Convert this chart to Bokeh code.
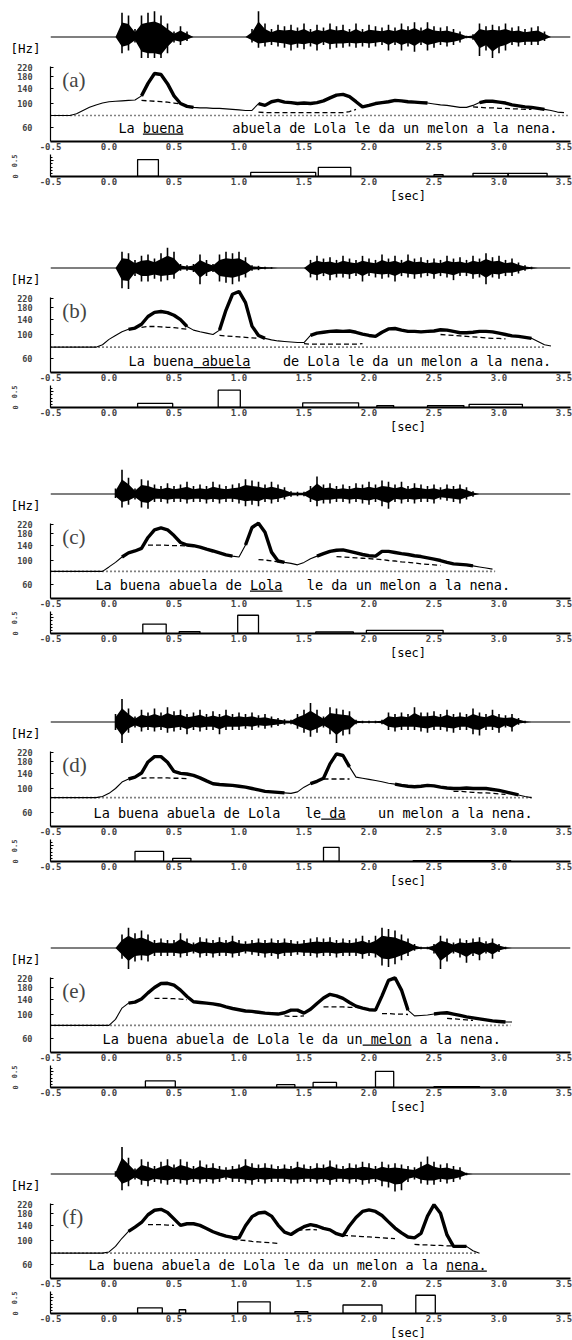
import re
import numpy as np
from bokeh.plotting import figure
from bokeh.layouts import column, row
from bokeh.models import Range1d, FixedTicker, PrintfTickFormatter, CustomJSTickFormatter, Label, Span
from bokeh.embed import file_html
from bokeh.resources import INLINE
from bokeh.core.properties import value

# ---------------------------------------------------------------- data
PANEL_LABELS = ["(a)", "(b)", "(c)", "(d)", "(e)", "(f)"]
SENTENCES = [
    "La buena      abuela de Lola le da un melon a la nena.",
    "La buena abuela    de Lola le da un melon a la nena.",
    "La buena abuela de Lola   le da un melon a la nena.",
    "La buena abuela de Lola   le da    un melon a la nena.",
    "La buena abuela de Lola le da un melon a la nena.",
    "La buena abuela de Lola le da un melon a la nena.",
]
UNDERLINE = [(3, 8), (8, 15), (19, 23), (28, 31), (32, 38), (44, 49)]
TEXT_X0 = [0.023, 0.10, -0.154, -0.169, -0.10, -0.208]     # sec
TEXT_Y = [59, 56, 59, 59, 59, 59]                          # Hz

XTICKS = [-0.5, 0.0, 0.5, 1.0, 1.5, 2.0, 2.5, 3.0, 3.5]
F0_TICKS = [60, 100, 140, 180, 220]
BAR_TICKS = [0.0, 0.5]

# speech waveform envelope (percent of full scale), t = 0.00 .. 3.40 step 0.05
WAVE_UP = [
    [0,90,80,30,80,90,95,80,50,20,40,20,0,0,0,0,0,0,0,0,0,
     30,95,50,30,45,40,45,35,50,30,45,35,50,40,45,30,50,30,45,40,35,45,35,50,40,55,35,55,40,35,40,30,20,5,10,
     50,40,45,40,50,35,40,30,35,40,20,0,0],
    [0,60,55,30,45,50,35,55,75,60,15,10,15,50,30,15,50,60,55,60,40,10,8,5,3,0,0,0,0,0,
     30,45,35,40,30,45,35,30,45,35,30,50,35,45,30,50,35,40,30,35,30,45,35,40,30,45,35,55,40,45,30,35,20,10,5,0,0,0,0],
    [20,90,60,20,55,50,35,30,40,30,35,45,30,35,30,45,35,30,35,40,55,50,45,35,45,35,25,10,8,8,
     30,65,35,40,30,35,30,40,35,45,35,50,45,35,45,30,40,35,30,35,25,35,30,35,25,10,0,0,0,0,0,0,0,0,0,0,0,0,0],
    [30,85,50,20,45,35,50,35,55,40,45,30,35,45,30,40,30,45,30,35,30,35,25,30,20,15,10,8,30,45,
     70,45,20,55,50,45,40,8,5,5,5,8,35,30,35,30,55,35,35,40,30,45,30,35,30,50,35,30,45,30,25,30,15,5,0,0,0,0,0],
    [0,50,75,55,65,50,30,35,30,30,55,35,20,40,35,30,40,30,45,30,25,30,35,30,35,30,35,30,25,30,
     35,40,35,40,30,35,30,35,45,30,45,75,70,65,50,35,15,5,5,15,45,35,20,35,30,35,40,25,35,15,5,0,0,0,0,0,0,0,0],
    [10,100,60,20,55,45,30,45,55,35,55,45,30,50,35,40,30,25,30,35,55,40,35,40,35,30,35,30,45,35,
     30,40,35,50,35,30,40,35,45,40,30,45,35,40,35,30,25,45,65,45,35,40,30,25,5,0,0,0,0,0,0,0,0,0,0,0,0,0,0],
]
WAVE_DOWN = [
    [0,60,50,20,90,100,100,110,60,20,30,15,0,0,0,0,0,0,0,0,0,
     20,40,35,30,35,40,50,40,45,35,50,30,45,40,40,35,40,35,40,35,30,50,30,50,35,55,30,50,40,30,35,30,20,5,10,
     70,50,90,60,50,30,35,30,30,30,15,0,0],
    [0,75,80,30,50,50,40,50,45,40,10,10,15,60,30,15,50,55,60,50,35,10,8,5,3,0,0,0,0,0,
     35,45,30,45,35,35,40,30,50,30,35,40,35,50,30,35,40,35,30,40,30,35,45,30,30,40,35,60,35,40,30,30,20,10,5,0,0,0,0],
    [15,50,40,20,50,55,30,30,35,30,30,35,30,30,35,30,35,30,30,35,45,40,45,30,35,30,20,10,8,8,
     30,45,35,35,30,30,35,30,35,40,30,45,55,30,35,30,35,30,30,35,20,25,30,35,20,10,0,0,0,0,0,0,0,0,0,0,0,0,0],
    [30,85,40,20,35,30,35,30,40,35,30,45,30,35,30,30,45,30,30,30,25,30,20,25,20,15,10,8,25,40,
     55,40,20,45,80,50,45,8,5,5,5,8,30,35,30,30,30,35,40,30,30,35,40,30,30,45,50,30,30,40,20,35,10,5,0,0,0,0,0],
    [0,40,80,50,45,50,30,30,30,30,35,30,20,35,30,35,30,30,35,30,20,25,30,35,30,40,30,30,25,30,
     30,35,30,30,35,30,30,30,40,30,35,65,70,60,45,30,10,5,5,20,80,50,20,35,55,30,45,20,40,15,5,0,0,0,0,0,0,0,0],
    [10,60,45,20,40,45,30,35,40,30,35,40,30,35,30,35,30,20,30,30,35,40,30,35,30,30,30,35,35,30,
     30,35,30,40,30,30,35,30,40,35,30,45,50,65,60,30,20,35,40,40,30,35,30,20,5,0,0,0,0,0,0,0,0,0,0,0,0,0,0],
]

# F0 contour (Hz), t = -0.50 step 0.05
F0 = [
    [77,77,77,77,80,86,92,97,101,104,105,106,107,108,
     118,155,192,188,154,118,100,94,
     92,91,91,90,90,89,88,87,86,86,
     100,96,104,107,103,102,100,101,100,102,
     106,113,120,122,116,104,93,96,100,102,
     104,107,106,104,103,102,101,99,97,96,
     94,92,92,96,102,105,105,103,101,97,
     95,93,92,90,88,86,83,82],
    [76,76,76,76,76,76,76,76,80,90,98,106,112,115,
     125,148,162,165,161,152,138,119,
     110,106,103,100,110,170,240,255,200,120,
     98,92,89,87,86,85,84,84,98,103,
     105,107,108,107,108,105,101,98,96,105,
     113,114,110,107,107,106,107,108,111,110,
     107,104,104,105,107,107,106,103,100,97,
     96,94,92,86,80,78],
    [79,79,79,79,79,79,79,79,79,87,96,108,118,123,
     130,165,195,203,195,172,148,140,
     138,134,128,123,118,113,110,108,140,205,
     225,185,120,99,96,94,91,96,104,110,
     116,122,125,126,122,118,114,111,110,122,
     122,119,116,114,111,109,106,103,100,96,
     93,92,91,89,87,85,83],
    [82,82,82,82,82,82,82,82,84,90,100,115,123,128,
     140,178,200,200,177,145,139,137,
     133,126,118,111,109,108,107,105,103,100,
     97,94,93,92,91,90,93,103,111,117,
     125,171,212,205,160,128,125,122,119,116,
     112,110,107,105,104,105,107,106,103,101,
     100,100,101,100,100,100,98,96,93,90,
     87,84,82],
    [79,79,79,79,79,79,79,79,79,79,
     90,115,128,131,140,160,180,196,197,189,
     170,148,132,130,128,126,123,118,114,111,
     108,107,105,103,102,101,104,110,110,103,
     112,127,143,155,150,142,130,120,115,111,
     110,150,210,222,170,110,97,98,99,101,
     103,104,101,98,95,93,91,89,87,86,
     85,85],
    [76,76,76,76,76,76,76,76,76,
     78,88,105,122,134,148,175,193,197,184,
     160,139,144,144,139,130,121,115,110,107,
     106,138,168,182,185,170,140,120,114,125,
     135,141,137,130,126,116,111,138,165,188,
     195,188,172,150,131,118,108,106,117,170,
     218,181,113,88,88,88,80,76],
]
# voiced stretches where the measured (thick) contour is shown
VOICED = [
    [(0.17, 0.60), (1.07, 1.90), (1.95, 2.40), (2.77, 3.32)],
    [(0.08, 0.55), (0.78, 1.17), (1.50, 3.20)],
    [(0.05, 0.92), (0.98, 1.30), (1.52, 2.76)],
    [(0.07, 1.30), (1.47, 1.83), (2.12, 3.12)],
    [(0.06, 2.28), (2.45, 3.04)],
    [(0.08, 2.70)],
]
# phrase component (dashed), visible stretches: (start time, values every 0.05 s)
PHRASE = [
    [(0.20, [107,106,105,104,103,101,99]),
     (1.10, [83,82,82,82,82,82,82,82,82,82,82,82,82,82,84,88]),
     (2.75, [93,92,91,91,90,90,89,89,88,88])],
    [(0.20, [117,119,119,118,117,116,114,112]),
     (0.80, [98,97,96,95,94,93,92]),
     (1.45, [82,81,81,81,81,81,81,81,81,82]),
     (2.50, [100,99,98,97,96,95,94,93,92,92,91])],
    [(0.25, [140,140,140,139,138,138,137,136]),
     (1.10, [102,101,99,97]),
     (1.70, [109,108,107,106,105,104,103,102,100,99,97,96,95,93,92,91,90])],
    [(0.20, [125,126,126,126,126,125,125,124]),
     (1.60, [123,123,123,123,123]),
     (2.60, [94,94,93,92,91,91,90,89,88])],
    [(0.30, [142,142,142,141,140,138]),
     (1.30, [97,96,96,97]),
     (1.60, [118,118,118,118,117,117,115]),
     (2.05, [102,102,101,101,100]),
     (2.55, [92,91,90,89,88])],
    [(0.25, [141,141,141,140,139]),
     (0.90, [103,101,100,98,97,96,95,94]),
     (1.40, [125,126,127,126]),
     (1.75, [112,111,110,109,108,107,106,105,104]),
     (2.30, [92,91,91,90,90,89,89])],
]
FB = [77, 76, 79, 82, 79, 76]                 # base frequency (dotted)
FB_END = [3.50, 3.30, 2.92, 3.20, 3.04, 2.78]

# accent commands
ACC_ON = [[0.17,1.04,1.56,2.45,2.75,3.02],[0.17,0.79,1.44,2.01,2.40,2.72],[0.21,0.49,0.94,1.54,1.93],
          [0.15,0.44,1.60,2.29],[0.23,1.24,1.52,2.00,2.45],[0.17,0.49,0.94,1.38,1.75,2.31]]
ACC_OFF = [[0.33,1.54,1.81,2.52,3.02,3.32],[0.44,0.96,1.87,2.14,2.68,3.13],[0.39,0.65,1.10,1.83,2.52],
           [0.37,0.58,1.72,3.04],[0.46,1.38,1.70,2.14,2.80],[0.36,0.54,1.19,1.48,2.05,2.46]]
ACC_AMP = [[0.54,0.13,0.29,0.06,0.10,0.10],[0.13,0.55,0.15,0.06,0.06,0.10],[0.30,0.06,0.58,0.05,0.10],
           [0.32,0.10,0.45,0.03],[0.21,0.09,0.16,0.51,0.03],[0.18,0.12,0.37,0.06,0.27,0.58]]

# ---------------------------------------------------------------- layout / style
W = 572
LEFT, RIGHT = 50, 2
PITCH = [231, 226, 228, 226, 226, 193]
MONO = "DejaVu Sans Mono"
CW = 8.13 / 130.0      # one character of the sentence font, in seconds
CORE = 0.6             # share of the envelope drawn as solid core
LBL_SHIFT = 0.05       # tick labels sit just left of their tick


def plain_fig(width, height, xr, yr, left=0, right=0, top=0, bottom=0, log=False, axes=True):
    kw = dict(width=width, height=height, x_range=xr, y_range=yr,
              output_backend="svg", toolbar_location=None,
              min_border_left=left, min_border_right=right,
              min_border_top=top, min_border_bottom=bottom)
    if log:
        kw["y_axis_type"] = "log"
    if not axes:
        kw["x_axis_location"] = None
        kw["y_axis_location"] = None
    p = figure(**kw)
    p.outline_line_color = None
    p.grid.visible = False
    p.background_fill_color = "white"
    p.border_fill_color = "white"
    return p


def style_xaxis(p):
    ax = p.xaxis[0]
    lo = XTICKS[0]
    ticks = [lo] + [round(v - LBL_SHIFT, 2) for v in XTICKS[1:]]
    ax.ticker = FixedTicker(ticks=ticks, minor_ticks=[])
    ax.formatter = CustomJSTickFormatter(
        args=dict(lo=lo, sh=LBL_SHIFT),
        code="const v = (tick <= lo + 1e-9) ? tick : tick + sh;"
             "return (Math.round(v * 10) / 10).toFixed(1);")
    ax.major_tick_line_color = None
    ax.minor_tick_line_color = None
    ax.major_tick_in = 0
    ax.major_tick_out = 0
    ax.minor_tick_in = 0
    ax.minor_tick_out = 0
    ax.axis_line_width = 1.8
    ax.major_label_text_font = MONO
    ax.major_label_text_font_style = "bold"
    ax.major_label_text_font_size = "9px"
    ax.major_label_standoff = 1


figs = []
for k in range(6):
    top = 8 if k == 0 else 0
    # --- [Hz] + waveform
    ph = plain_fig(LEFT, 50 + top, Range1d(0, LEFT), Range1d(-50, 0), top=top, axes=False)
    ph.text(x=[10], y=[-40], text=["[Hz]"], text_font=value(MONO), text_font_size=value("12.5px"),
            text_baseline="middle", text_align="left", text_color="black")
    pw = plain_fig(W - LEFT, 50 + top, Range1d(-0.5, 3.5), Range1d(-21.5 / 27, 28.5 / 27),
                   right=RIGHT, top=top, axes=False)
    tw = np.arange(len(WAVE_UP[k])) * 0.05
    up = np.array(WAVE_UP[k]) / 100.0
    dn = -np.array(WAVE_DOWN[k]) / 100.0
    pw.add_layout(Span(location=0, dimension="width", line_color="black", line_width=1.2))
    pw.varea(x=tw, y1=dn * CORE, y2=up * CORE, fill_color="black")
    pw.segment(x0=tw, y0=dn, x1=tw, y1=up, line_color="black", line_width=1.6)
    figs.append(row(ph, pw, spacing=0))

    # --- F0 contour
    pf = plain_fig(W, 96, Range1d(-0.5, 3.5), Range1d(43.8, 266), left=LEFT, right=RIGHT,
                   bottom=13, log=True)
    style_xaxis(pf)
    ya = pf.yaxis[0]
    ya.ticker = FixedTicker(ticks=F0_TICKS, minor_ticks=[])
    ya.formatter = PrintfTickFormatter(format="%d")
    ya.bounds = (43.8, 222)
    ya.major_tick_in = 3
    ya.major_tick_out = 0
    ya.minor_tick_line_color = None
    ya.axis_line_width = 1.2
    ya.major_label_standoff = 18
    ya.major_label_text_font = MONO
    ya.major_label_text_font_style = "bold"
    ya.major_label_text_font_size = "8.5px"

    t = -0.5 + np.arange(len(F0[k])) * 0.05
    f = np.array(F0[k], dtype=float)
    obs = np.full_like(f, np.nan)
    for a, b in VOICED[k]:
        m = (t >= a - 1e-9) & (t <= b + 1e-9)
        obs[m] = f[m]
    pf.line([-0.5, FB_END[k]], [FB[k], FB[k]], line_color="black", line_width=1.6, line_dash="1 3")
    for t0, vals in PHRASE[k]:
        tp = t0 + np.arange(len(vals)) * 0.05
        pf.line(tp, vals, line_color="black", line_width=1.3, line_dash="5 3")
    pf.line(t, f, line_color="black", line_width=1.1)
    pf.line(t, obs, line_color="black", line_width=3.4)

    x0 = TEXT_X0[k]
    s = SENTENCES[k]
    parts = [(m.start(), m.group()) for m in re.finditer(r"\S+(?: \S+)*", s)]
    pf.text(x=[x0 + i * CW for i, _ in parts], y=[TEXT_Y[k]] * len(parts), text=[w for _, w in parts],
            text_font=value(MONO), text_font_size=value("13.5px"), text_baseline="middle",
            text_align="left", text_color="black")
    i0, i1 = UNDERLINE[k]
    uy = TEXT_Y[k] * 0.87
    pf.segment(x0=[x0 + i0 * CW], y0=[uy], x1=[x0 + i1 * CW], y1=[uy], line_color="black", line_width=1.3)
    pf.add_layout(Label(x=-0.41, y=167, text=PANEL_LABELS[k], text_font="Liberation Serif",
                        text_font_size="21px", text_baseline="middle", text_align="left"))
    figs.append(pf)

    # --- accent commands
    pb = plain_fig(W, 34, Range1d(-0.5, 3.5), Range1d(0, 0.7), left=LEFT, right=RIGHT, bottom=12)
    style_xaxis(pb)
    yb = pb.yaxis[0]
    yb.ticker = FixedTicker(ticks=BAR_TICKS, minor_ticks=[0.1, 0.2, 0.3, 0.4, 0.6])
    yb.bounds = (0, 0.7)
    yb.major_tick_in = 3
    yb.major_tick_out = 0
    yb.minor_tick_in = 2
    yb.minor_tick_out = 0
    yb.axis_line_width = 1.2
    yb.major_label_orientation = "vertical"
    yb.major_label_standoff = 33
    yb.major_label_text_font = MONO
    yb.major_label_text_font_style = "bold"
    yb.major_label_text_font_size = "7px"
    pb.quad(left=ACC_ON[k], right=ACC_OFF[k], bottom=0, top=ACC_AMP[k],
            fill_color=None, line_color="black", line_width=1.3)
    figs.append(pb)

    # --- [sec] strip
    hs = PITCH[k] - 180
    psec = plain_fig(W, hs, Range1d(-0.5, 3.5), Range1d(-hs, 0), left=LEFT, right=RIGHT, axes=False)
    psec.text(x=[2.25], y=[-7], text=["[sec]"], text_font=value(MONO), text_font_size=value("12px"),
              text_baseline="middle", text_align="center", text_color="black")
    figs.append(psec)

layout = column(*figs, spacing=0)
open("out.html", "w").write(file_html(layout, INLINE))
